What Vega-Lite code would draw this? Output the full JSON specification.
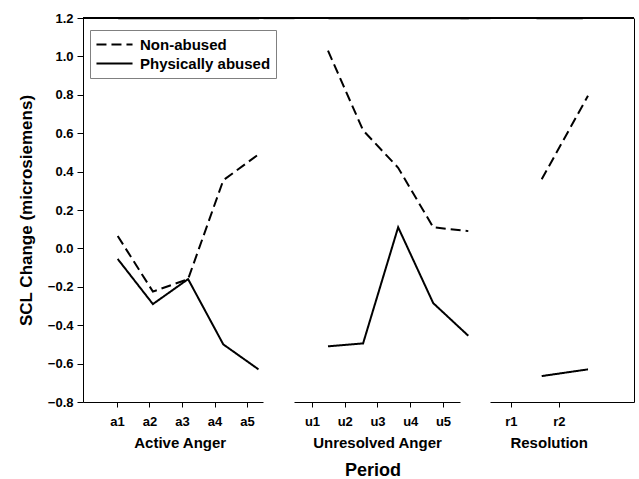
{
  "$schema": "https://vega.github.io/schema/vega-lite/v6.json",
  "background": "white",
  "padding": {"left": 17, "top": 12, "right": 5, "bottom": 5},
  "spacing": 0,
  "bounds": "flush",
  "config": {
    "font": "Liberation Sans",
    "view": {"stroke": null},
    "axis": {
      "domainColor": "black", "tickColor": "black", "labelColor": "black", "titleColor": "black",
      "labelFont": "Liberation Sans", "titleFont": "Liberation Sans",
      "labelFontWeight": "bold", "titleFontWeight": "bold", "grid": false,
      "domainWidth": 1, "tickWidth": 1
    }
  },
  "title": {"text": "Period", "orient": "bottom", "fontSize": 18, "fontWeight": "bold", "font": "Liberation Sans", "color": "black", "anchor": "middle", "offset": 12, "dx": 47},
  "data": {"values": [
    {"period": "a1", "phase": "Active Anger", "group": "Non-abused", "value": 0.065},
    {"period": "a2", "phase": "Active Anger", "group": "Non-abused", "value": -0.225},
    {"period": "a3", "phase": "Active Anger", "group": "Non-abused", "value": -0.16},
    {"period": "a4", "phase": "Active Anger", "group": "Non-abused", "value": 0.355},
    {"period": "a5", "phase": "Active Anger", "group": "Non-abused", "value": 0.49},
    {"period": "u1", "phase": "Unresolved Anger", "group": "Non-abused", "value": 1.03},
    {"period": "u2", "phase": "Unresolved Anger", "group": "Non-abused", "value": 0.615},
    {"period": "u3", "phase": "Unresolved Anger", "group": "Non-abused", "value": 0.42},
    {"period": "u4", "phase": "Unresolved Anger", "group": "Non-abused", "value": 0.11},
    {"period": "u5", "phase": "Unresolved Anger", "group": "Non-abused", "value": 0.09},
    {"period": "r1", "phase": "Resolution", "group": "Non-abused", "value": 0.36},
    {"period": "r2", "phase": "Resolution", "group": "Non-abused", "value": 0.795},
    {"period": "a1", "phase": "Active Anger", "group": "Physically abused", "value": -0.055},
    {"period": "a2", "phase": "Active Anger", "group": "Physically abused", "value": -0.29},
    {"period": "a3", "phase": "Active Anger", "group": "Physically abused", "value": -0.16},
    {"period": "a4", "phase": "Active Anger", "group": "Physically abused", "value": -0.5},
    {"period": "a5", "phase": "Active Anger", "group": "Physically abused", "value": -0.63},
    {"period": "u1", "phase": "Unresolved Anger", "group": "Physically abused", "value": -0.51},
    {"period": "u2", "phase": "Unresolved Anger", "group": "Physically abused", "value": -0.495},
    {"period": "u3", "phase": "Unresolved Anger", "group": "Physically abused", "value": 0.11},
    {"period": "u4", "phase": "Unresolved Anger", "group": "Physically abused", "value": -0.285},
    {"period": "u5", "phase": "Unresolved Anger", "group": "Physically abused", "value": -0.455},
    {"period": "r1", "phase": "Resolution", "group": "Physically abused", "value": -0.665},
    {"period": "r2", "phase": "Resolution", "group": "Physically abused", "value": -0.63}
  ]},
  "hconcat": [
    {
      "width": 180, "height": 384,
      "transform": [{"filter": "datum.phase === 'Active Anger'"}],
      "layer": [
        {
          "mark": {"type": "rule", "color": "black", "strokeWidth": 1.3},
          "encoding": {"y": {"datum": 1.2, "type": "quantitative", "scale": {"domain": [-0.8, 1.2], "nice": false, "zero": false},
                  "axis": {"title": "SCL Change (microsiemens)", "values": [-0.8, -0.6, -0.4, -0.2, 0, 0.2, 0.4, 0.6, 0.8, 1.0, 1.2], "format": ".1f", "tickSize": 6, "labelPadding": 4, "labelFontSize": 13, "titleFontSize": 17, "titlePadding": 12, "grid": true, "gridColor": "black", "gridWidth": 1.3, "gridOpacity": {"condition": {"test": "datum.value > 1.19", "value": 1}, "value": 0}}}}
        },
        {
          "mark": {"type": "line", "strokeWidth": 2, "color": "black"},
          "encoding": {
            "x": {"field": "period", "type": "ordinal", "scale": {"type": "point", "range": [34.7, 175.5], "padding": 0}, "axis": null},
            "y": {"field": "value", "type": "quantitative", "scale": {"domain": [-0.8, 1.2], "nice": false, "zero": false},
                  "axis": {"title": "SCL Change (microsiemens)", "values": [-0.8, -0.6, -0.4, -0.2, 0, 0.2, 0.4, 0.6, 0.8, 1.0, 1.2], "format": ".1f", "tickSize": 6, "labelPadding": 4, "labelFontSize": 13, "titleFontSize": 17, "titlePadding": 12, "grid": true, "gridColor": "black", "gridWidth": 1.3, "gridOpacity": {"condition": {"test": "datum.value > 1.19", "value": 1}, "value": 0}}},
            "strokeDash": {"field": "group", "type": "nominal", "scale": {"domain": ["Non-abused", "Physically abused"], "range": [[10, 5], [1, 0]]},
                  "legend": {"orient": "none", "legendX": 7, "legendY": 12, "title": null, "symbolType": "stroke", "symbolStrokeWidth": 2, "symbolSize": 1300, "symbolStrokeColor": "black", "clipHeight": 19, "labelFontSize": 15, "labelFontWeight": "bold", "labelFont": "Liberation Sans", "labelColor": "black", "strokeColor": "#808080", "fillColor": "white", "padding": 5, "rowPadding": 0, "labelOffset": 6}}
          }
        },
        {
          "mark": {"type": "rule", "strokeOpacity": 0},
          "encoding": {
            "x": {"field": "period", "type": "ordinal", "scale": {"type": "point", "padding": 0.769, "align": 0.68},
                  "axis": {"orient": "bottom", "title": "Active Anger", "labelAngle": 0, "tickSize": 5, "labelPadding": 8, "labelFontSize": 13, "titleFontSize": 15, "titlePadding": 7, "titleX": 96.7}}
          }
        }
      ],
      "resolve": {"scale": {"x": "independent"}, "axis": {"x": "independent"}}
    },
    {
      "width": 31, "height": 384,
      "mark": {"type": "rule", "color": "black", "strokeWidth": 1.3},
      "encoding": {"y": {"datum": 1.2, "type": "quantitative", "scale": {"domain": [-0.8, 1.2], "nice": false, "zero": false},
              "axis": {"values": [1.2], "grid": true, "gridColor": "black", "gridWidth": 1.3, "domain": false, "ticks": false, "labels": false, "title": null}}}
    },
    {
      "width": 166, "height": 384,
      "transform": [{"filter": "datum.phase === 'Unresolved Anger'"}],
      "layer": [
        {
          "mark": {"type": "rule", "color": "black", "strokeWidth": 1.3},
          "encoding": {"y": {"datum": 1.2, "type": "quantitative", "scale": {"domain": [-0.8, 1.2], "nice": false, "zero": false},
                  "axis": {"values": [1.2], "grid": true, "gridColor": "black", "gridWidth": 1.3, "domain": false, "ticks": false, "labels": false, "title": null}}}
        },
        {
          "mark": {"type": "line", "strokeWidth": 2, "color": "black"},
          "encoding": {
            "x": {"field": "period", "type": "ordinal", "scale": {"type": "point", "range": [34, 174.3], "padding": 0}, "axis": null},
            "y": {"field": "value", "type": "quantitative", "scale": {"domain": [-0.8, 1.2], "nice": false, "zero": false},
                  "axis": {"values": [1.2], "grid": true, "gridColor": "black", "gridWidth": 1.3, "domain": false, "ticks": false, "labels": false, "title": null}},
            "strokeDash": {"field": "group", "type": "nominal", "scale": {"domain": ["Non-abused", "Physically abused"], "range": [[10, 5], [1, 0]]}, "legend": null}
          }
        },
        {
          "mark": {"type": "rule", "strokeOpacity": 0},
          "encoding": {
            "x": {"field": "period", "type": "ordinal", "scale": {"type": "point", "padding": 0.534, "align": 0.514},
                  "axis": {"orient": "bottom", "title": "Unresolved Anger", "labelAngle": 0, "tickSize": 5, "labelPadding": 8, "labelFontSize": 13, "titleFontSize": 15, "titlePadding": 7}}
          }
        }
      ],
      "resolve": {"scale": {"x": "independent"}, "axis": {"x": "independent"}}
    },
    {
      "width": 30, "height": 384,
      "mark": {"type": "rule", "color": "black", "strokeWidth": 1.3},
      "encoding": {"y": {"datum": 1.2, "type": "quantitative", "scale": {"domain": [-0.8, 1.2], "nice": false, "zero": false},
              "axis": {"values": [1.2], "grid": true, "gridColor": "black", "gridWidth": 1.3, "domain": false, "ticks": false, "labels": false, "title": null}}}
    },
    {
      "width": 144, "height": 384,
      "transform": [{"filter": "datum.phase === 'Resolution'"}],
      "layer": [
        {
          "mark": {"type": "rule", "color": "black", "strokeWidth": 1.3},
          "encoding": {"y": {"datum": 1.2, "type": "quantitative", "scale": {"domain": [-0.8, 1.2], "nice": false, "zero": false},
                  "axis": {"orient": "right", "values": [1.2], "grid": true, "gridColor": "black", "gridWidth": 1.3, "labels": false, "ticks": false, "title": null}}}
        },
        {
          "mark": {"type": "line", "strokeWidth": 2, "color": "black"},
          "encoding": {
            "x": {"field": "period", "type": "ordinal", "scale": {"type": "point", "range": [51.7, 98], "padding": 0}, "axis": null},
            "y": {"field": "value", "type": "quantitative", "scale": {"domain": [-0.8, 1.2], "nice": false, "zero": false},
                  "axis": {"orient": "right", "values": [1.2], "grid": true, "gridColor": "black", "gridWidth": 1.3, "labels": false, "ticks": false, "title": null}},
            "strokeDash": {"field": "group", "type": "nominal", "scale": {"domain": ["Non-abused", "Physically abused"], "range": [[10, 5], [1, 0]]}, "legend": null}
          }
        },
        {
          "mark": {"type": "rule", "strokeOpacity": 0},
          "encoding": {
            "x": {"field": "period", "type": "ordinal", "scale": {"type": "point", "padding": 1.174, "align": 0.218},
                  "axis": {"orient": "bottom", "title": "Resolution", "labelAngle": 0, "tickSize": 5, "labelPadding": 8, "labelFontSize": 13, "titleFontSize": 15, "titlePadding": 7, "titleX": 58.7}}
          }
        }
      ],
      "resolve": {"scale": {"x": "independent"}, "axis": {"x": "independent"}}
    }
  ],
  "resolve": {"scale": {"x": "independent", "y": "independent", "strokeDash": "shared"}, "legend": {"strokeDash": "independent"}}
}
